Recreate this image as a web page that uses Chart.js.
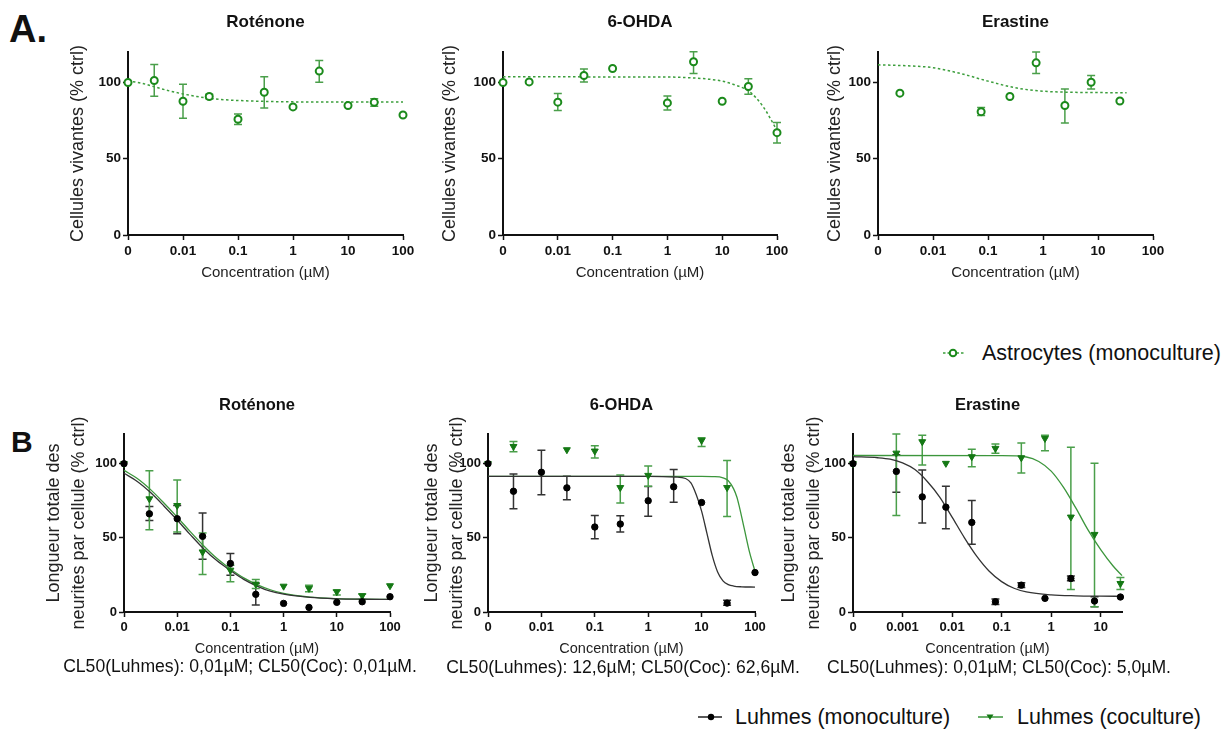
<!DOCTYPE html>
<html><head><meta charset="utf-8">
<script src="https://cdn.jsdelivr.net/npm/chart.js@4.4.1/dist/chart.umd.min.js"></script>
<style>
body{margin:0;background:#fff;width:1226px;height:729px;overflow:hidden;position:relative;font-family:"Liberation Sans",Arial,sans-serif;}
canvas{position:absolute;}
.lbl{position:absolute;white-space:nowrap;color:#111;line-height:24px;}
svg{position:absolute;}
</style></head><body>
<div class="lbl" style="left:9px;top:10px;font-size:38px;font-weight:bold;line-height:38px;">A.</div>
<div class="lbl" style="left:11px;top:427px;font-size:30px;font-weight:bold;line-height:30px;">B</div>

<canvas id="a1" width="358" height="282" style="left:67px;top:0px"></canvas>
<canvas id="a2" width="360" height="282" style="left:439px;top:0px"></canvas>
<canvas id="a3" width="351" height="282" style="left:824px;top:0px"></canvas>
<canvas id="b1" width="370" height="278" style="left:42px;top:380px"></canvas>
<canvas id="b2" width="357" height="278" style="left:420px;top:380px"></canvas>
<canvas id="b3" width="367" height="278" style="left:777px;top:380px"></canvas>

<svg style="left:938px;top:343px" width="30" height="20"><line x1="5" y1="10" x2="26" y2="10" stroke="#3c9e3c" stroke-width="1.5" stroke-dasharray="2.5,2"/><circle cx="15" cy="10" r="3.3" fill="#fff" stroke="#1b8a1b" stroke-width="2"/></svg>
<div class="lbl" style="left:982px;top:341px;font-size:21.5px;">Astrocytes (monoculture)</div>

<svg style="left:693px;top:707px" width="34" height="20"><line x1="5" y1="10" x2="29" y2="10" stroke="#222" stroke-width="1.5"/><circle cx="18" cy="10" r="3.2" fill="#000"/></svg>
<div class="lbl" style="left:735px;top:705px;font-size:21.5px;">Luhmes (monoculture)</div>
<svg style="left:973px;top:707px" width="34" height="20"><line x1="5" y1="10" x2="30" y2="10" stroke="#3c963c" stroke-width="1.5"/><polygon points="13.5,7.5 20.5,7.5 17,13" fill="#147814"/></svg>
<div class="lbl" style="left:1017px;top:705px;font-size:21.5px;">Luhmes (coculture)</div>

<div class="lbl" style="left:240px;top:654px;font-size:17.6px;transform:translateX(-50%);">CL50(Luhmes): 0,01µM; CL50(Coc): 0,01µM.</div>
<div class="lbl" style="left:623px;top:655px;font-size:17.6px;transform:translateX(-50%);">CL50(Luhmes): 12,6µM; CL50(Coc): 62,6µM.</div>
<div class="lbl" style="left:999px;top:655px;font-size:17.6px;transform:translateX(-50%);">CL50(Luhmes): 0,01µM; CL50(Coc): 5,0µM.</div>

<script>
// ---------- DATA ----------
// x tick values (log10 of concentration, "0" placed at the left end) and their labels
const xTicksA = [-3, -2, -1, 0, 1, 2];
const xLabelsA = ['0', '0.01', '0.1', '1', '10', '100'];
const xTicksB3 = [-4, -3, -2, -1, 0, 1];
const xLabelsB3 = ['0', '0.001', '0.01', '0.1', '1', '10'];
const yTicks = [0, 50, 100];

// A. Astrocytes (monoculture) - cell viability (% ctrl)
const rotA_conc = [0, 0.003, 0.01, 0.03, 0.1, 0.3, 1, 3, 10, 30, 100];
const rotA_mean = [100, 101.3, 87.7, 90.8, 75.9, 93.6, 84, 107.5, 84.9, 87, 78.7];
const rotA_low  = [null, 91, 76.5, 89.3, 72.4, 83.3, null, 100.2, null, 84.4, null];
const rotA_high = [null, 111.8, 98.9, 92.3, 79.4, 103.7, null, 114.5, null, 89.3, null];
const rotA_fitLog = [-3, -2.75, -2.5, -2.25, -2, -1.75, -1.5, -1.25, -1, -0.5, 0, 1, 2];
const rotA_fitY   = [101, 99.5, 97, 94.5, 92.5, 90.8, 89.6, 88.7, 88.2, 87.6, 87.3, 87.2, 87.2];

const ohdaA_conc = [0, 0.003, 0.01, 0.03, 0.1, 1, 3, 10, 30, 100];
const ohdaA_mean = [100, 100.4, 87.1, 104.6, 109.2, 86.6, 113.6, 87.7, 97.4, 67.1];
const ohdaA_low  = [null, null, 81.6, 100.4, null, 82, 105.9, null, 92.3, 60.3];
const ohdaA_high = [null, null, 92.8, 108.8, null, 91.2, 120.2, null, 102.4, 73.7];
const ohdaA_fitLog = [-3, 0, 0.5, 0.75, 1, 1.25, 1.5, 1.75, 2];
const ohdaA_fitY   = [103.7, 103.6, 102.9, 102.2, 100.9, 98.2, 94, 84, 68.6];

const eraA_conc = [0.0025, 0.075, 0.25, 0.75, 2.5, 7.5, 25];
const eraA_mean = [93, 80.9, 90.8, 112.9, 84.9, 100.2, 87.9];
const eraA_low  = [null, 78.3, null, 105.9, 73.5, 95.8, null];
const eraA_high = [null, 83.6, null, 120, 95.8, 104.6, null];
const eraA_fitLog = [-3, -2.5, -2, -1.5, -1, -0.5, 0, 0.5, 1, 1.52];
const eraA_fitY   = [111.6, 111, 109.7, 105.9, 100.9, 96.5, 94.3, 93.6, 93.4, 93.2];

// B. Total neurite length per cell (% ctrl)
const rotB_conc = [0, 0.003, 0.01, 0.03, 0.1, 0.3, 1, 3, 10, 30, 100];
const rotB_mono = [100, 66.2, 62.9, 51, 32.7, 11.9, 5.8, 3.1, 6.5, 6.9, 10.3];
const rotB_monoLow  = [null, 61.7, 52.8, 35.6, 24.8, 4.7, null, null, null, null, null];
const rotB_monoHigh = [null, 71.1, 71.8, 66.7, 39.4, 19.2, null, null, null, null, null];
const rotB_coc = [100, 76.3, 71.8, 40.5, 28.2, 18.8, 17.4, 15.9, 13.6, 11, 17.7];
const rotB_cocLow  = [null, 55.5, 53.9, 25.3, 20.4, 15.9, null, 13.6, 11.4, 8.5, null];
const rotB_cocHigh = [null, 95.3, 89, 53.2, 31.5, 21.9, null, 18.1, 14.8, 12.1, null];
const rotB_fitLog = [-3, -2.75, -2.5, -2.25, -2, -1.75, -1.5, -1.25, -1, -0.75, -0.5, -0.25, 0, 0.5, 1, 1.5, 2];
const rotB_monoFitY = [93.5, 88, 80.5, 71.5, 62, 52, 42.5, 34.5, 28, 22, 17.5, 14, 12, 9.8, 8.9, 8.6, 8.5];
const rotB_cocFitY  = [95.5, 90, 82.5, 73.5, 64, 54, 44.5, 36, 29, 23, 18.5, 15, 12.5, 10, 9, 8.6, 8.5];

const ohdaB_monoConc = [0, 0.003, 0.01, 0.03, 0.1, 0.3, 1, 3, 10, 30, 100];
const ohdaB_mono = [100, 81.4, 94.2, 83.7, 57.3, 59.3, 75, 84.4, 73.8, 6, 26.6];
const ohdaB_monoLow  = [null, 69.6, 79, 75.6, 49.4, 53.9, 64.6, 74, null, 4.5, null];
const ohdaB_monoHigh = [null, 93, 109, 91.5, 65, 64.9, 84.6, 96, null, 8, null];
const ohdaB_cocConc = [0, 0.003, 0.03, 0.1, 0.3, 1, 10, 30];
const ohdaB_coc = [100, 111.6, 109.4, 108.5, 83.9, 92.1, 115.7, 83.9];
const ohdaB_cocLow  = [null, 108, null, 103.8, 73.4, 84.7, 111.6, 64.4];
const ohdaB_cocHigh = [null, 115, null, 112, 92.4, 98.4, 117.5, 102.2];
const ohdaB_monoFitLog = [-3, 0, 0.5, 0.7, 0.8, 0.9, 1.0, 1.1, 1.2, 1.3, 1.4, 1.5, 1.6, 1.75, 2];
const ohdaB_monoFitY   = [91.5, 91.5, 91, 90, 87, 79, 68, 53, 38, 27, 21, 18.5, 17.5, 17, 16.8];
const ohdaB_cocFitLog = [-3, 1, 1.2, 1.4, 1.5, 1.6, 1.66, 1.7, 1.8, 1.9, 2];
const ohdaB_cocFitY   = [91.5, 91.5, 91.3, 90.5, 88.5, 83, 77.5, 72, 56, 40, 27.5];

const eraB_conc = [0, 0.00075, 0.0025, 0.0075, 0.025, 0.075, 0.25, 0.75, 2.5, 7.5, 25];
const eraB_mono = [100, 94.8, 77.6, 70.7, 60.4, 6.9, 18.1, 9.2, 22.6, 7.4, 10.1];
const eraB_monoLow  = [null, 80.8, 60, 56.1, 45.6, 5.1, 16.6, null, 21, 3.6, null];
const eraB_monoHigh = [null, 106, 95.7, 84.8, 75.2, 8.7, 19.7, null, 24.2, 10.3, null];
const eraB_coc = [100, 107.1, 114.8, 100.2, 104.7, 110.3, 104, 117, 64, 52.3, 19.2];
const eraB_cocLow  = [null, 65.1, 99.1, null, 98, 107.1, 93.7, 108.7, 15.2, 3.6, 15.2];
const eraB_cocHigh = [null, 120, 119.2, null, 109.8, 113.2, 113.9, 119.2, 111, 100.2, 23.3];
const eraB_monoFitLog = [-4, -3.5, -3.25, -3, -2.75, -2.5, -2.25, -2, -1.75, -1.5, -1.25, -1, -0.75, -0.5, 0, 0.5, 1, 1.43];
const eraB_monoFitY   = [104.7, 104, 103, 100.5, 96, 88, 77.5, 64, 50, 37.5, 27.5, 20.5, 16, 13.5, 11.5, 10.9, 10.7, 10.6];
const eraB_cocFitLog = [-4, -1, -0.5, -0.25, 0, 0.25, 0.5, 0.75, 1, 1.25, 1.43];
const eraB_cocFitY   = [105.5, 105.4, 104.5, 101.5, 95, 84, 70, 55, 42, 31, 24.5];

// ---------- STYLE ----------
const GREEN_PT = '#1b8a1b', GREEN_LINE = '#3c9e3c', GREEN_ERR = '#4a9f4a';
const GREEN_B = '#147814', GREEN_B_LINE = '#3c963c';
Chart.defaults.font.family = '"Liberation Sans", Arial, sans-serif';

function pts(conc, vals, zeroLog) {
  return conc.map((c, i) => ({x: c === 0 ? zeroLog : Math.log10(c), y: vals[i]}));
}
function fit(logs, vals) { return logs.map((l, i) => ({x: l, y: vals[i]})); }

const errorBarPlugin = {
  id: 'errorBars',
  beforeDatasetsDraw(chart) {
    const {ctx} = chart, xs = chart.scales.x, ys = chart.scales.y;
    chart.data.datasets.forEach((ds, i) => {
      if (!ds.errLow) return;
      ctx.save();
      ctx.strokeStyle = ds.errColor; ctx.lineWidth = 1.5;
      const cap = 4;
      ds.data.forEach((p, j) => {
        const lo = ds.errLow[j], hi = ds.errHigh[j];
        if (lo == null || hi == null) return;
        const px = xs.getPixelForValue(p.x), yl = ys.getPixelForValue(lo), yh = ys.getPixelForValue(hi);
        ctx.beginPath();
        ctx.moveTo(px, yl); ctx.lineTo(px, yh);
        ctx.moveTo(px - cap, yl); ctx.lineTo(px + cap, yl);
        ctx.moveTo(px - cap, yh); ctx.lineTo(px + cap, yh);
        ctx.stroke();
      });
      ctx.restore();
    });
  }
};

function astroPoints(conc, mean, lo, hi, z) {
  return {type: 'scatter', data: pts(conc, mean, z), errLow: lo, errHigh: hi, errColor: GREEN_ERR,
    pointStyle: 'circle', pointRadius: 3.5, pointBorderWidth: 2, pointBorderColor: GREEN_PT,
    pointBackgroundColor: '#fff', clip: false};
}
function astroFit(l, y) {
  return {type: 'line', data: fit(l, y), borderColor: GREEN_LINE, borderWidth: 1.5, borderDash: [2.5, 2.5],
    pointRadius: 0, cubicInterpolationMode: 'monotone', fill: false, clip: false};
}
function monoPoints(conc, mean, lo, hi, z) {
  return {type: 'scatter', data: pts(conc, mean, z), errLow: lo, errHigh: hi, errColor: '#333',
    pointStyle: 'circle', pointRadius: 3.2, pointBorderWidth: 1, pointBorderColor: '#000',
    pointBackgroundColor: '#000', clip: false};
}
function cocPoints(conc, mean, lo, hi, z) {
  return {type: 'scatter', data: pts(conc, mean, z), errLow: lo, errHigh: hi, errColor: GREEN_ERR,
    pointStyle: 'triangle', rotation: 180, pointRadius: 4, pointBorderWidth: 1, pointBorderColor: GREEN_B,
    pointBackgroundColor: GREEN_B, clip: false};
}
function lineFit(l, y, color) {
  return {type: 'line', data: fit(l, y), borderColor: color, borderWidth: 1.3,
    pointRadius: 0, cubicInterpolationMode: 'monotone', fill: false, clip: false};
}

function panel(id, P) {
  new Chart(document.getElementById(id), {
    type: 'scatter',
    data: {datasets: P.datasets},
    options: {
      responsive: false, animation: false, events: [],
      layout: {padding: {left: 0, right: 22, top: 0, bottom: 0}},
      plugins: {
        legend: {display: false}, tooltip: {enabled: false},
        title: {display: true, text: P.title, fullSize: false, color: '#111',
          font: {size: P.titleSize, weight: 'bold'}, padding: {top: P.tPadTop, bottom: P.tPadBottom}}
      },
      scales: {
        x: {type: 'linear', min: P.xmin, max: P.xmax,
          afterBuildTicks: s => { s.ticks = P.xTicks.map(v => ({value: v})); },
          afterFit: s => { s.height = P.xAxisH; },
          ticks: {callback: (v, i) => P.xLabels[i], autoSkip: false, maxRotation: 0, color: '#111',
            font: {size: P.tickSize, weight: 'bold'}, padding: 3},
          grid: {display: true, drawOnChartArea: false, drawTicks: true, tickLength: 5, tickColor: '#111', tickWidth: 1.5},
          border: {display: true, color: '#111', width: 2},
          title: {display: true, text: 'Concentration (µM)', color: '#222', font: {size: P.xTitleSize}, padding: {top: 0, bottom: 0}}
        },
        y: {type: 'linear', min: 0, max: 120,
          afterBuildTicks: s => { s.ticks = yTicks.map(v => ({value: v})); },
          afterFit: s => { s.width = P.yAxisW; },
          ticks: {color: '#111', font: {size: P.tickSize, weight: 'bold'}, padding: 2},
          grid: {display: true, drawOnChartArea: false, drawTicks: true, tickLength: 5, tickColor: '#111', tickWidth: 1.5},
          border: {display: true, color: '#111', width: 2},
          title: {display: true, text: P.yTitle, color: '#222', font: P.yTitleFont, padding: {top: 0, bottom: 0}}
        }
      }
    },
    plugins: [errorBarPlugin]
  });
}

const A = {xmin: -3, xmax: 2, xTicks: xTicksA, xLabels: xLabelsA, titleSize: 17, tPadTop: 12.6, tPadBottom: 19,
  tickSize: 13.5, xTitleSize: 15, xAxisH: 47, yTitle: 'Cellules vivantes (% ctrl)', yTitleFont: {size: 18}};
const B = {xmin: -3, xmax: 2, xTicks: xTicksA, xLabels: xLabelsA, titleSize: 16.5, tPadTop: 15.1, tPadBottom: 19.1,
  tickSize: 13, xTitleSize: 14.5, xAxisH: 46, yTitle: ['Longueur totale des', 'neurites par cellule (% ctrl)'],
  yTitleFont: {size: 18, lineHeight: 25 / 18}};

panel('a1', Object.assign({}, A, {title: 'Roténone', yAxisW: 61, datasets: [
  astroPoints(rotA_conc, rotA_mean, rotA_low, rotA_high, -3), astroFit(rotA_fitLog, rotA_fitY)]}));
panel('a2', Object.assign({}, A, {title: '6-OHDA', yAxisW: 64, datasets: [
  astroPoints(ohdaA_conc, ohdaA_mean, ohdaA_low, ohdaA_high, -3), astroFit(ohdaA_fitLog, ohdaA_fitY)]}));
panel('a3', Object.assign({}, A, {title: 'Erastine', yAxisW: 54, datasets: [
  astroPoints(eraA_conc, eraA_mean, eraA_low, eraA_high, -3), astroFit(eraA_fitLog, eraA_fitY)]}));

panel('b1', Object.assign({}, B, {title: 'Roténone', yAxisW: 82, datasets: [
  monoPoints(rotB_conc, rotB_mono, rotB_monoLow, rotB_monoHigh, -3),
  cocPoints(rotB_conc, rotB_coc, rotB_cocLow, rotB_cocHigh, -3),
  lineFit(rotB_fitLog, rotB_monoFitY, '#333'), lineFit(rotB_fitLog, rotB_cocFitY, GREEN_B_LINE)]}));
panel('b2', Object.assign({}, B, {title: '6-OHDA', yAxisW: 68, datasets: [
  monoPoints(ohdaB_monoConc, ohdaB_mono, ohdaB_monoLow, ohdaB_monoHigh, -3),
  cocPoints(ohdaB_cocConc, ohdaB_coc, ohdaB_cocLow, ohdaB_cocHigh, -3),
  lineFit(ohdaB_monoFitLog, ohdaB_monoFitY, '#333'), lineFit(ohdaB_cocFitLog, ohdaB_cocFitY, GREEN_B_LINE)]}));
panel('b3', Object.assign({}, B, {title: 'Erastine', yAxisW: 76, xmin: -4, xmax: 1.43, xTicks: xTicksB3, xLabels: xLabelsB3, datasets: [
  monoPoints(eraB_conc, eraB_mono, eraB_monoLow, eraB_monoHigh, -4),
  cocPoints(eraB_conc, eraB_coc, eraB_cocLow, eraB_cocHigh, -4),
  lineFit(eraB_monoFitLog, eraB_monoFitY, '#333'), lineFit(eraB_cocFitLog, eraB_cocFitY, GREEN_B_LINE)]}));
</script>
</body></html>
